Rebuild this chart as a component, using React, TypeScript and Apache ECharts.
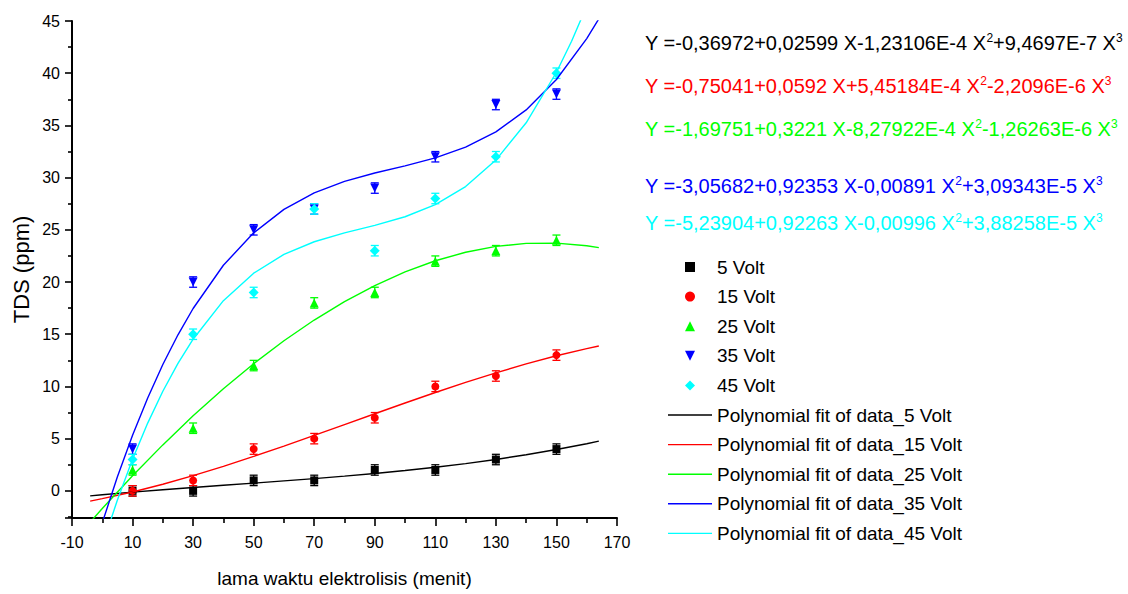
import React, { useEffect, useRef } from "react";
import * as echarts from "echarts";

// ---- data ----
const times = [10, 30, 50, 70, 90, 110, 130, 150];
const tds5 = [0, 0, 1, 1, 2, 2, 3, 4];
const tds15 = [0, 1, 4, 5, 7, 10, 11, 13];
const tds25 = [2, 6, 12, 18, 19, 22, 23, 24];
const tds35 = [4, 20, 25, 27, 29, 32, 37, 38];
const tds45 = [3, 15, 19, 27, 23, 28, 32, 40];
const err5 = [0.5, 0.5, 0.5, 0.5, 0.5, 0.5, 0.5, 0.5];
const err15 = [0.5, 0.5, 0.5, 0.5, 0.5, 0.5, 0.5, 0.5];
const err25 = [0.5, 0.5, 0.5, 0.5, 0.5, 0.5, 0.5, 0.5];
const err35 = [0.5, 0.5, 0.5, 0.5, 0.5, 0.5, 0.5, 0.5];
const err45 = [0.5, 0.5, 0.5, 0.5, 0.5, 0.5, 0.5, 0.5];

// fitted curves (values read from the polynomial fits)
const fitX = [-4, 0, 10, 20, 30, 40, 50, 60, 70, 80, 90, 100, 110, 120, 130, 140, 150, 160, 164];
const fit5 = [-0.476, -0.37, -0.121, 0.108, 0.325, 0.534, 0.74, 0.951, 1.171, 1.407, 1.663, 1.945, 2.26, 2.613, 3.009, 3.455, 3.955, 4.516, 4.759];
const fit15 = [-0.978, -0.75, -0.106, 0.634, 1.457, 2.349, 3.296, 4.287, 5.307, 6.344, 7.383, 8.412, 9.417, 10.386, 11.305, 12.16, 12.939, 13.628, 13.875];
const fit25 = [-2.999, -1.698, 1.439, 4.403, 7.186, 9.781, 12.18, 14.375, 16.36, 18.125, 19.665, 20.971, 22.035, 22.851, 23.41, 23.705, 23.728, 23.472, 23.29];
const fit35X = [-4, 0, 5, 10, 15, 20, 25, 30, 40, 50, 60, 70, 80, 90, 100, 110, 120, 130, 140, 150, 160, 164];
const fit35 = [-6.895, -3.057, 1.342, 5.318, 8.896, 12.097, 14.946, 17.465, 21.608, 24.712, 26.961, 28.542, 29.64, 30.441, 31.131, 31.894, 32.917, 34.386, 36.485, 39.401, 43.319, 45.208];
const fit45X = [-4, 0, 5, 10, 15, 20, 25, 30, 40, 50, 60, 70, 80, 90, 100, 110, 120, 130, 140, 150, 155, 160];
const fit45 = [-9.091, -5.239, -0.87, 3.03, 6.49, 9.54, 12.208, 14.524, 18.215, 20.846, 22.649, 23.858, 24.706, 25.426, 26.25, 27.411, 29.144, 31.679, 35.251, 40.093, 43.062, 46.436];

const seriesNames = ["5 Volt", "15 Volt", "25 Volt", "35 Volt", "45 Volt"];
const fitNames = [
  "Polynomial fit of data_5 Volt",
  "Polynomial fit of data_15 Volt",
  "Polynomial fit of data_25 Volt",
  "Polynomial fit of data_35 Volt",
  "Polynomial fit of data_45 Volt",
];
const colors = ["#000000", "#ff0000", "#00ff00", "#0000ff", "#00ffff"];

const eqParts = [
  ["Y =-0,36972+0,02599 X-1,23106E-4 X", "2", "+9,4697E-7 X", "3"],
  ["Y =-0,75041+0,0592 X+5,45184E-4 X", "2", "-2,2096E-6 X", "3"],
  ["Y =-1,69751+0,3221 X-8,27922E-4 X", "2", "-1,26263E-6 X", "3"],
  ["Y =-3,05682+0,92353 X-0,00891 X", "2", "+3,09343E-5 X", "3"],
  ["Y =-5,23904+0,92263 X-0,00996 X", "2", "+3,88258E-5 X", "3"],
];

const FONT = "'Liberation Sans', Arial, sans-serif";

const SYM_SQUARE = "path://M0 0H10V10H0Z";
const SYM_CIRCLE = "circle";
const SYM_UP = "path://M5 0L10 10H0Z";
const SYM_DOWN = "path://M0 0H10L5 10Z";
const SYM_DIAMOND = "path://M5 0L10 5L5 10L0 5Z";
const ICON_LINE = "path://M0 0H44V1.4H0Z";

export default function App() {
  const ref = useRef<HTMLDivElement>(null);

  useEffect(() => {
    if (!ref.current) return;
    const chart = echarts.init(ref.current, undefined, { renderer: "svg" });

    const groups = [
      { v: tds5, e: err5, fx: fitX, fy: fit5, sym: SYM_SQUARE, size: 8 },
      { v: tds15, e: err15, fx: fitX, fy: fit15, sym: SYM_CIRCLE, size: 8 },
      { v: tds25, e: err25, fx: fitX, fy: fit25, sym: SYM_UP, size: 9 },
      { v: tds35, e: err35, fx: fit35X, fy: fit35, sym: SYM_DOWN, size: 9 },
      { v: tds45, e: err45, fx: fit45X, fy: fit45, sym: SYM_DIAMOND, size: 10 },
    ];

    const series: any[] = [];
    groups.forEach((g, i) => {
      series.push({
        type: "custom",
        name: seriesNames[i] + " error",
        silent: true,
        z: 2,
        data: times.map((t, k) => [t, g.v[k] - g.e[k], g.v[k] + g.e[k]]),
        encode: { x: 0, y: [1, 2] },
        renderItem: (params: any, api: any) => {
          const x = api.value(0);
          const pLo = api.coord([x, api.value(1)]);
          const pHi = api.coord([x, api.value(2)]);
          const hw = 4;
          const style = { stroke: colors[i], lineWidth: 1.3, fill: "none" };
          return {
            type: "group",
            children: [
              { type: "line", shape: { x1: pLo[0], y1: pLo[1], x2: pHi[0], y2: pHi[1] }, style },
              { type: "line", shape: { x1: pLo[0] - hw, y1: pLo[1], x2: pLo[0] + hw, y2: pLo[1] }, style },
              { type: "line", shape: { x1: pHi[0] - hw, y1: pHi[1], x2: pHi[0] + hw, y2: pHi[1] }, style },
            ],
          };
        },
      });
    });
    groups.forEach((g, i) => {
      series.push({
        type: "scatter",
        name: seriesNames[i],
        symbol: g.sym,
        symbolSize: g.size,
        symbolKeepAspect: true,
        itemStyle: { color: colors[i], opacity: 1 },
        z: 3,
        data: times.map((t, k) => [t, g.v[k]]),
      });
    });
    groups.forEach((g, i) => {
      series.push({
        type: "line",
        name: fitNames[i],
        symbol: "none",
        showSymbol: false,
        smooth: false,
        clip: true,
        lineStyle: { color: colors[i], width: 1.4 },
        itemStyle: { color: colors[i] },
        z: 4,
        data: g.fx.map((x, k) => [x, g.fy[k]]),
      });
    });

    const graphic = eqParts.map((p, i) => ({
      type: "text",
      x: 645,
      y: [42, 85, 128, 185, 222][i],
      silent: true,
      style: {
        text: `{n|${p[0]}}{s|${p[1]}}{n|${p[2]}}{s|${p[3]}}`,
        verticalAlign: "middle",
        align: "left",
        fill: colors[i],
        rich: {
          n: { fontSize: 20, fontFamily: FONT, fill: colors[i], lineHeight: 21, verticalAlign: "bottom" },
          s: { fontSize: 12, fontFamily: FONT, fill: colors[i], lineHeight: 12, verticalAlign: "top" },
        },
      },
    }));

    const option: any = {
      animation: false,
      backgroundColor: "#ffffff",
      textStyle: { fontFamily: FONT },
      grid: { left: 72, top: 21, width: 545, height: 497, containLabel: false },
      legend: {
        orient: "vertical",
        left: 668,
        top: 257,
        padding: 0,
        itemWidth: 44,
        itemHeight: 10,
        itemGap: 9.6,
        symbolKeepAspect: true,
        selectedMode: false,
        textStyle: { fontFamily: FONT, fontSize: 19, color: "#000", lineHeight: 20 },
        data: [
          ...seriesNames,
          ...fitNames.map((n) => ({ name: n, icon: ICON_LINE })),
        ],
      },
      xAxis: {
        type: "value",
        min: -10,
        max: 170,
        interval: 20,
        name: "lama waktu elektrolisis (menit)",
        nameLocation: "middle",
        nameGap: 51,
        nameTextStyle: { fontFamily: FONT, fontSize: 19, color: "#000" },
        axisLine: { show: true, onZero: false, lineStyle: { color: "#000", width: 2 } },
        axisTick: { show: true, length: 8, lineStyle: { color: "#000", width: 1.6 } },
        minorTick: { show: true, splitNumber: 2, length: 5, lineStyle: { color: "#000", width: 1.6 } },
        axisLabel: { fontFamily: FONT, fontSize: 16, color: "#000", margin: 16 },
        splitLine: { show: false },
      },
      yAxis: {
        type: "value",
        min: -2.6,
        max: 45,
        splitNumber: 9,
        minInterval: 5,
        maxInterval: 5,
        name: "TDS (ppm)",
        nameLocation: "middle",
        nameGap: 40,
        nameTextStyle: { fontFamily: FONT, fontSize: 22, color: "#000" },
        axisLine: { show: true, onZero: false, lineStyle: { color: "#000", width: 2 } },
        axisTick: { show: true, length: 7, lineStyle: { color: "#000", width: 1.6 } },
        minorTick: { show: true, splitNumber: 2, length: 4, lineStyle: { color: "#000", width: 1.6 } },
        axisLabel: { fontFamily: FONT, fontSize: 16, color: "#000", margin: 12, showMinLabel: false },
        splitLine: { show: false },
      },
      graphic,
      series,
    };

    chart.setOption(option);
    return () => chart.dispose();
  }, []);

  return (
    <div
      ref={ref}
      style={{ position: "absolute", left: 0, top: 0, width: 1128, height: 594, background: "#fff" }}
    />
  );
}
